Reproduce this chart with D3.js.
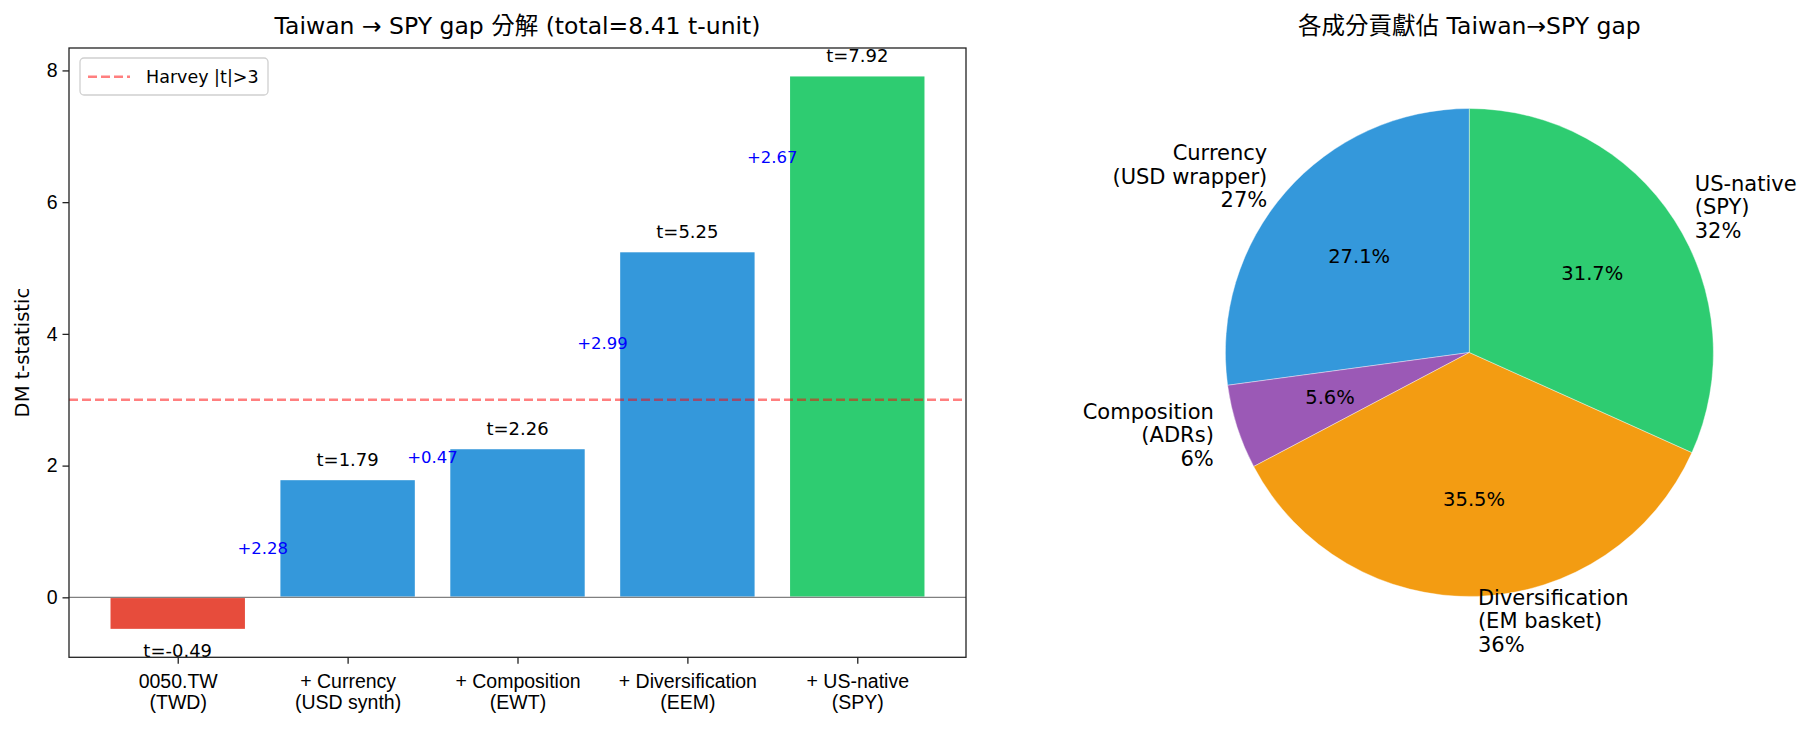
<!DOCTYPE html>
<html>
<head>
<meta charset="utf-8">
<script src="https://cdn.jsdelivr.net/npm/d3@7"></script>
<style>
  body { margin: 0; background: #fff; }
  svg { font-family: "DejaVu Sans", "Noto Sans CJK TC", sans-serif; }
</style>
</head>
<body>
<div id="chart"></div>
<script>
// data
const categories = ["0050.TW\n(TWD)", "+ Currency\n(USD synth)", "+ Composition\n(EWT)", "+ Diversification\n(EEM)", "+ US-native\n(SPY)"];
const tValues = [-0.49, 1.79, 2.26, 5.25, 7.92];
const barColors = ["#e74c3c", "#3498db", "#3498db", "#3498db", "#2ecc71"];
const deltas = [2.281, 0.470, 2.986, 2.666];
const yTicks = [0, 2, 4, 6, 8];
const harveyT = 3;

const pieLabels = ["Currency\n(USD wrapper)", "Composition\n(ADRs)", "Diversification\n(EM basket)", "US-native\n(SPY)"];
const pieValues = [2.281, 0.470, 2.986, 2.666];
const pieColors = ["#3498db", "#9b59b6", "#f39c12", "#2ecc71"];

const W = 1817, H = 731;
const svg = d3.select("#chart").append("svg").attr("width", W).attr("height", H);

// ---------- bar chart ----------
const ax = { left: 69, right: 966, top: 48, bottom: 657.3 };
const x = d3.scaleLinear().domain([-0.64, 4.64]).range([ax.left, ax.right]);
const y = d3.scaleLinear().domain([-0.9105, 8.3405]).range([ax.bottom, ax.top]);

const g = svg.append("g");

// bars
g.selectAll("rect.bar")
  .data(tValues)
  .enter()
  .append("rect")
  .attr("class", "bar")
  .attr("x", (d, i) => x(i - 0.4))
  .attr("width", x(0.8) - x(0))
  .attr("y", d => y(Math.max(0, d)))
  .attr("height", d => Math.abs(y(d) - y(0)))
  .attr("fill", (d, i) => barColors[i])
  .attr("stroke", "#fff")
  .attr("stroke-width", 1.5);

// zero line
g.append("line")
  .attr("x1", ax.left).attr("x2", ax.right)
  .attr("y1", y(0)).attr("y2", y(0))
  .attr("stroke", "#808080").attr("stroke-width", 1.3);

// Harvey line
g.append("line")
  .attr("x1", ax.left).attr("x2", ax.right)
  .attr("y1", y(harveyT)).attr("y2", y(harveyT))
  .attr("stroke", "red").attr("stroke-opacity", 0.5)
  .attr("stroke-width", 2.4).attr("stroke-dasharray", "9,4");

// t labels
g.selectAll("text.tlab")
  .data(tValues)
  .enter()
  .append("text")
  .attr("class", "tlab")
  .attr("x", (d, i) => x(i))
  .attr("y", d => d >= 0 ? y(d) - 13.5 : y(d) + 27)
  .attr("text-anchor", "middle")
  .attr("font-size", 18)
  .text(d => "t=" + d.toFixed(2));

// delta labels
g.selectAll("text.dlab")
  .data(deltas)
  .enter()
  .append("text")
  .attr("class", "dlab")
  .attr("x", (d, i) => x(i + 0.5))
  .attr("y", (d, i) => y((tValues[i] + tValues[i + 1]) / 2) - 1)
  .attr("text-anchor", "middle")
  .attr("font-size", 16.5)
  .attr("fill", "blue")
  .text(d => "+" + d.toFixed(2));

// axes
const yAxis = g.append("g")
  .attr("transform", `translate(${ax.left},0)`)
  .call(d3.axisLeft(y).tickValues(yTicks).tickSize(6.5).tickPadding(5).tickFormat(d3.format("d")));
yAxis.select(".domain").remove();
yAxis.selectAll("text").attr("font-size", 19.5).attr("font-family", null).attr("fill", "#000");
yAxis.selectAll("line").attr("stroke", "#222").attr("stroke-width", 1.3);

const xAxis = g.append("g")
  .attr("transform", `translate(0,${ax.bottom})`)
  .call(d3.axisBottom(x).tickValues(d3.range(categories.length)).tickSize(6.5).tickFormat(""));
xAxis.select(".domain").remove();
xAxis.selectAll("line").attr("stroke", "#222").attr("stroke-width", 1.3);
xAxis.selectAll(".tick").each(function (d) {
  const t = d3.select(this).append("text")
    .attr("text-anchor", "middle")
    .attr("font-size", 19.5)
    .attr("fill", "#000");
  categories[d].split("\n").forEach((line, k) => {
    t.append("tspan").attr("x", 0).attr("y", 30.7 + k * 20.7).text(line);
  });
});

// frame
g.append("rect")
  .attr("x", ax.left).attr("y", ax.top)
  .attr("width", ax.right - ax.left).attr("height", ax.bottom - ax.top)
  .attr("fill", "none").attr("stroke", "#222").attr("stroke-width", 1.3);

// y label
g.append("text")
  .attr("transform", `translate(29,${(ax.top + ax.bottom) / 2}) rotate(-90)`)
  .attr("text-anchor", "middle")
  .attr("font-size", 19.5)
  .text("DM t-statistic");

// title
g.append("text")
  .attr("x", (ax.left + ax.right) / 2).attr("y", 34)
  .attr("text-anchor", "middle")
  .attr("font-size", 23.5)
  .text("Taiwan → SPY gap 分解 (total=8.41 t-unit)");

// legend
const lg = g.append("g");
lg.append("rect")
  .attr("x", 80).attr("y", 58).attr("width", 188).attr("height", 37).attr("rx", 4)
  .attr("fill", "#fff").attr("fill-opacity", 0.8)
  .attr("stroke", "#d0d0d0").attr("stroke-width", 1.3);
lg.append("line")
  .attr("x1", 88).attr("x2", 130).attr("y1", 76.7).attr("y2", 76.7)
  .attr("stroke", "red").attr("stroke-opacity", 0.5)
  .attr("stroke-width", 2.4).attr("stroke-dasharray", "9,4");
lg.append("text")
  .attr("x", 146).attr("y", 83)
  .attr("font-size", 17.5)
  .text("Harvey |t|>3");

// ---------- pie ----------
const cx = 1469.4, cy = 352.5, R = 244;
const pg = svg.append("g").attr("transform", `translate(${cx},${cy})`);
const total = d3.sum(pieValues);
const pie = d3.pie().sort(null).startAngle(0).endAngle(-2 * Math.PI);
const arcs = pie(pieValues);
const arc = d3.arc().innerRadius(0).outerRadius(R);

pg.selectAll("path")
  .data(arcs)
  .enter()
  .append("path")
  .attr("d", arc)
  .attr("fill", (d, i) => pieColors[i])
  .attr("stroke", "#fff")
  .attr("stroke-width", 0.4);

// pct labels
pg.selectAll("text.pct")
  .data(arcs)
  .enter()
  .append("text")
  .attr("class", "pct")
  .each(function (d) {
    const a = (d.startAngle + d.endAngle) / 2;
    d3.select(this)
      .attr("x", Math.sin(a) * R * 0.6)
      .attr("y", -Math.cos(a) * R * 0.6)
      .attr("dy", "0.36em");
  })
  .attr("text-anchor", "middle")
  .attr("font-size", 19.5)
  .text(d => (d.value / total * 100).toFixed(1) + "%");

// outer labels
pg.selectAll("text.outer")
  .data(arcs)
  .enter()
  .append("text")
  .attr("class", "outer")
  .attr("font-size", 21)
  .each(function (d, i) {
    const a = (d.startAngle + d.endAngle) / 2;
    const lx = Math.sin(a) * R * 1.1;
    const ly = -Math.cos(a) * R * 1.1;
    const lines = pieLabels[i].split("\n").concat([(d.value / total * 100).toFixed(0) + "%"]);
    const sp = 23.5;
    const t = d3.select(this).attr("text-anchor", lx > 0 ? "start" : "end");
    lines.forEach((line, k) => {
      t.append("tspan")
        .attr("x", lx)
        .attr("y", ly + (k - (lines.length - 1) / 2) * sp + 7.6)
        .text(line);
    });
  });

svg.append("text")
  .attr("x", cx).attr("y", 34)
  .attr("text-anchor", "middle")
  .attr("font-size", 23.5)
  .text("各成分貢獻佔 Taiwan→SPY gap");
</script>
</body>
</html>
